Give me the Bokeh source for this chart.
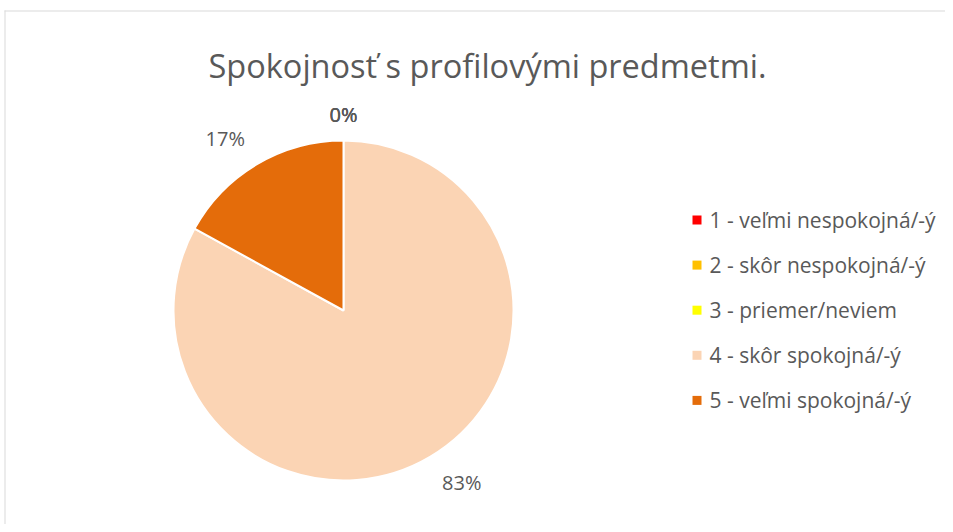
import math
from bokeh.plotting import figure
from bokeh.models import Range1d, ColumnDataSource
from bokeh.core.properties import value
from bokeh.embed import file_html
from bokeh.resources import INLINE

# ---- data ----
title_text = "Spokojnosť s profilovými predmetmi."
categories = ["1 - veľmi nespokojná/-ý", "2 - skôr nespokojná/-ý", "3 - priemer/neviem",
              "4 - skôr spokojná/-ý", "5 - veľmi spokojná/-ý"]
values = [0, 0, 0, 83, 17]
colors = ["#FF0000", "#FFC000", "#FFFF00", "#FBD4B4", "#E46C0A"]

FONT = "Open Sans"
TXT = "#595959"
W, H = 945, 524

p = figure(width=W, height=H, output_backend="svg", toolbar_location=None,
           x_range=Range1d(0, W), y_range=Range1d(0, H), min_border=0)
p.axis.visible = False
p.grid.visible = False
p.outline_line_color = None
p.background_fill_color = "white"
p.border_fill_color = "white"

# chart area border (light gray)
p.line([4.5, 4.5], [0, 514], line_color="#D9D9D9", line_width=1)
p.line([4, W], [513.5, 513.5], line_color="#D9D9D9", line_width=1)

# title
p.text(x=[487], y=[459], text=[title_text], text_font=value(FONT), text_font_size="32.5px",
       text_color=TXT, text_align="center", text_baseline="alphabetic")

# pie
cx, cy, r = 343, 214, 170
total = sum(values)
starts, ends, mids, pct = [], [], [], []
cum = 0.0
for v in values:
    f0 = cum / total
    cum += v
    f1 = cum / total
    starts.append(math.pi / 2 - 2 * math.pi * f0)
    ends.append(math.pi / 2 - 2 * math.pi * f1)
    mids.append(math.pi / 2 - 2 * math.pi * (f0 + f1) / 2)
    pct.append(f"{round(100 * v / total)}%")

src = ColumnDataSource(dict(start=starts, end=ends, color=colors))
p.wedge(x=cx, y=cy, radius=r, start_angle="start", end_angle="end", direction="clock",
        fill_color="color", line_color="white", line_width=2, source=src)

# data labels (outside end): box placed just outside the slice's edge
lfs = 20
lx, ly = [], []
for a, t in zip(mids, pct):
    ux, uy = math.cos(a), math.sin(a)
    hx = 0.657 * lfs * len(t) / 2 + 12
    hy = 26
    ox = max(-hx, min(hx, 100 * ux))
    oy = max(-hy, min(hy, 100 * uy))
    lx.append(cx + r * ux + ox)
    ly.append(cy + r * uy + oy)
p.text(x=lx, y=ly, text=pct, text_font=value(FONT), text_font_size=f"{lfs}px",
       text_color=TXT, text_align="center", text_baseline="middle")

# legend
leg_x, leg_y0, leg_dy = 696.5, 304.5, 45.1
ys = [leg_y0 - i * leg_dy for i in range(len(categories))]
p.scatter(x=[leg_x] * len(categories), y=ys, marker="square", size=9,
          fill_color=colors, line_color=None)
p.text(x=[leg_x + 12.5] * len(categories), y=ys, text=categories, text_font=value(FONT),
       text_font_size="21px", text_color=TXT, text_align="left", text_baseline="middle")

open("out.html", "w").write(file_html(p, INLINE))
